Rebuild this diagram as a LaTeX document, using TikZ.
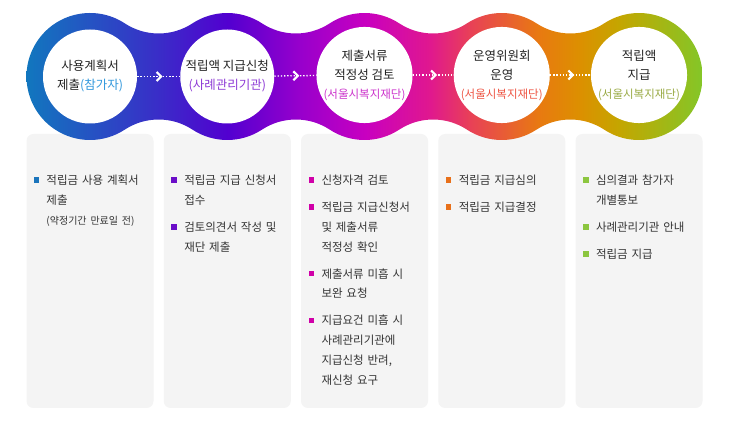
\documentclass[tikz,border=0pt]{standalone}
\usepackage{fontspec}
\setmainfont{Noto Sans CJK KR}
\usetikzlibrary{calc, decorations.markings}

\definecolor{ch0}{HTML}{1177BE}
\definecolor{ch1}{HTML}{3A2CC8}
\definecolor{ch2}{HTML}{5200D0}
\definecolor{ch3}{HTML}{9800CC}
\definecolor{ch4}{HTML}{C800C0}
\definecolor{ch5}{HTML}{E0188E}
\definecolor{ch6}{HTML}{E84058}
\definecolor{ch7}{HTML}{E87A10}
\definecolor{ch8}{HTML}{DC9000}
\definecolor{ch9}{HTML}{C4A600}
\definecolor{ch10}{HTML}{84C628}
\definecolor{ttl}{HTML}{222222}
\definecolor{txt}{HTML}{333333}
\definecolor{cardgray}{HTML}{F4F4F4}
\definecolor{sub1}{HTML}{3399DD}
\definecolor{sub2}{HTML}{8E3BD6}
\definecolor{sub3}{HTML}{CC33CC}
\definecolor{sub4}{HTML}{EE5544}
\definecolor{sub5}{HTML}{99AA44}
\definecolor{b1}{HTML}{1B75BC}
\definecolor{b2}{HTML}{6A0DC8}
\definecolor{b3}{HTML}{D000A8}
\definecolor{b4}{HTML}{E8701A}
\definecolor{b5}{HTML}{8CC63F}

\pgfdeclarehorizontalshading{chainshade}{100bp}{color(0bp)=(ch0); color(25bp)=(ch0);
  color(34.9bp)=(ch1); color(39.9bp)=(ch2); color(45.3bp)=(ch3); color(50.1bp)=(ch4);
  color(54.9bp)=(ch5); color(57.8bp)=(ch6); color(63bp)=(ch7); color(66bp)=(ch8);
  color(68.9bp)=(ch9); color(75bp)=(ch10); color(100bp)=(ch10)}

\newcommand{\bitem}[2]{\par\vspace{7.2pt}\noindent\hangindent=13pt\hangafter=1\makebox[13pt][l]{\textcolor{#1}{\rule[1.7pt]{5.5pt}{5.5pt}}}#2\par}

\begin{document}
\begin{tikzpicture}[x=1pt, y=1pt,
  card/.style={fill=cardgray, rounded corners=7pt, minimum width=127pt, minimum height=274pt, inner sep=0pt},
  stage/.style={circle, fill=white, minimum size=94pt, inner sep=0pt, align=center, text=ttl, font=\fontsize{12.5}{19}\selectfont},
  list/.style={anchor=north west, inner sep=0pt, text width=118pt, text=txt, font=\fontsize{11.5}{19.8}\selectfont},
  flow/.style={white, line width=1.3pt, dash pattern=on 1.3pt off 1.9pt, postaction={decorate},
    decoration={markings, mark=at position 0.5 with {\draw[white, solid, line width=2.2pt] (-2pt,4.5pt) -- (2.5pt,0pt) -- (-2pt,-4.5pt);}}}]
\path[use as bounding box, fill=white] (0,0) rectangle (734,434);

\foreach \i in {1,...,5}
  \node[card] (card\i) at ({90+137.25*(\i-1)},163) {};

\pgfmathsetmacro\R{63.5}
\pgfmathsetmacro\hw{43}
\pgfmathsetmacro\dd{68.625}
\pgfmathsetmacro\rf{(\dd*\dd+\hw*\hw-\R*\R)/(2*(\R-\hw))}
\pgfmathsetmacro\ph{atan2(\hw+\rf,\dd)}

\begin{scope}
\clip (90,357.5) ++(\ph:\R) arc[start angle=\ph, end angle=360-\ph, radius=\R]
  arc[start angle=180-\ph, end angle=\ph, radius=\rf] arc[start angle=180+\ph, end angle=360-\ph, radius=\R]
  arc[start angle=180-\ph, end angle=\ph, radius=\rf] arc[start angle=180+\ph, end angle=360-\ph, radius=\R]
  arc[start angle=180-\ph, end angle=\ph, radius=\rf] arc[start angle=180+\ph, end angle=360-\ph, radius=\R]
  arc[start angle=180-\ph, end angle=\ph, radius=\rf] arc[start angle=180+\ph, end angle=540-\ph, radius=\R]
  arc[start angle=360-\ph, end angle=180+\ph, radius=\rf] arc[start angle=\ph, end angle=180-\ph, radius=\R]
  arc[start angle=360-\ph, end angle=180+\ph, radius=\rf] arc[start angle=\ph, end angle=180-\ph, radius=\R]
  arc[start angle=360-\ph, end angle=180+\ph, radius=\rf] arc[start angle=\ph, end angle=180-\ph, radius=\R]
  arc[start angle=360-\ph, end angle=180+\ph, radius=\rf] -- cycle;
\shade[shading=chainshade] (26,280) rectangle (702,430);
\end{scope}

\node[stage] (s1) at (90,357.5) {사용계획서\\제출{\color{sub1}(참가자)}};
\node[stage] (s2) at (227.25,357.5) {적립액 지급신청\\{\color{sub2}(사례관리기관)}};
\node[stage] (s3) at (364.5,359) {제출서류\\적정성 검토\\{\fontsize{11.5}{19}\selectfont\color{sub3}(서울시복지재단)}};
\node[stage] (s4) at (501.75,359) {운영위원회\\운영\\{\fontsize{11.5}{19}\selectfont\color{sub4}(서울시복지재단)}};
\node[stage] (s5) at (639,359) {적립액\\지급\\{\fontsize{11.5}{19}\selectfont\color{sub5}(서울시복지재단)}};

\foreach \i/\j in {1/2,2/3,3/4,4/5}
  \draw[flow] (s\i) -- (s\j);

\node[list] (list1) at ($(card1.north west)+(7,-23.5)$) {\bitem{b1}{적립금 사용 계획서\newline 제출\newline {\fontsize{10}{19.8}\selectfont(약정기간 만료일 전)}}};
\node[list] (list2) at ($(card2.north west)+(7.5,-23.5)$) {\bitem{b2}{적립금 지급 신청서\newline 접수}
  \bitem{b2}{검토의견서 작성 및\newline 재단 제출}};
\node[list] (list3) at ($(card3.north west)+(7.5,-23.5)$) {\bitem{b3}{신청자격 검토}
  \bitem{b3}{적립금 지급신청서\newline 및 제출서류\newline 적정성 확인}
  \bitem{b3}{제출서류 미흡 시\newline 보완 요청}
  \bitem{b3}{지급요건 미흡 시\newline 사례관리기관에\newline 지급신청 반려,\newline 재신청 요구}};
\node[list] (list4) at ($(card4.north west)+(7.5,-23.5)$) {\bitem{b4}{적립금 지급심의}
  \bitem{b4}{적립금 지급결정}};
\node[list] (list5) at ($(card5.north west)+(7.5,-23.5)$) {\bitem{b5}{심의결과 참가자\newline 개별통보}
  \bitem{b5}{사례관리기관 안내}
  \bitem{b5}{적립금 지급}};

\end{tikzpicture}
\end{document}
